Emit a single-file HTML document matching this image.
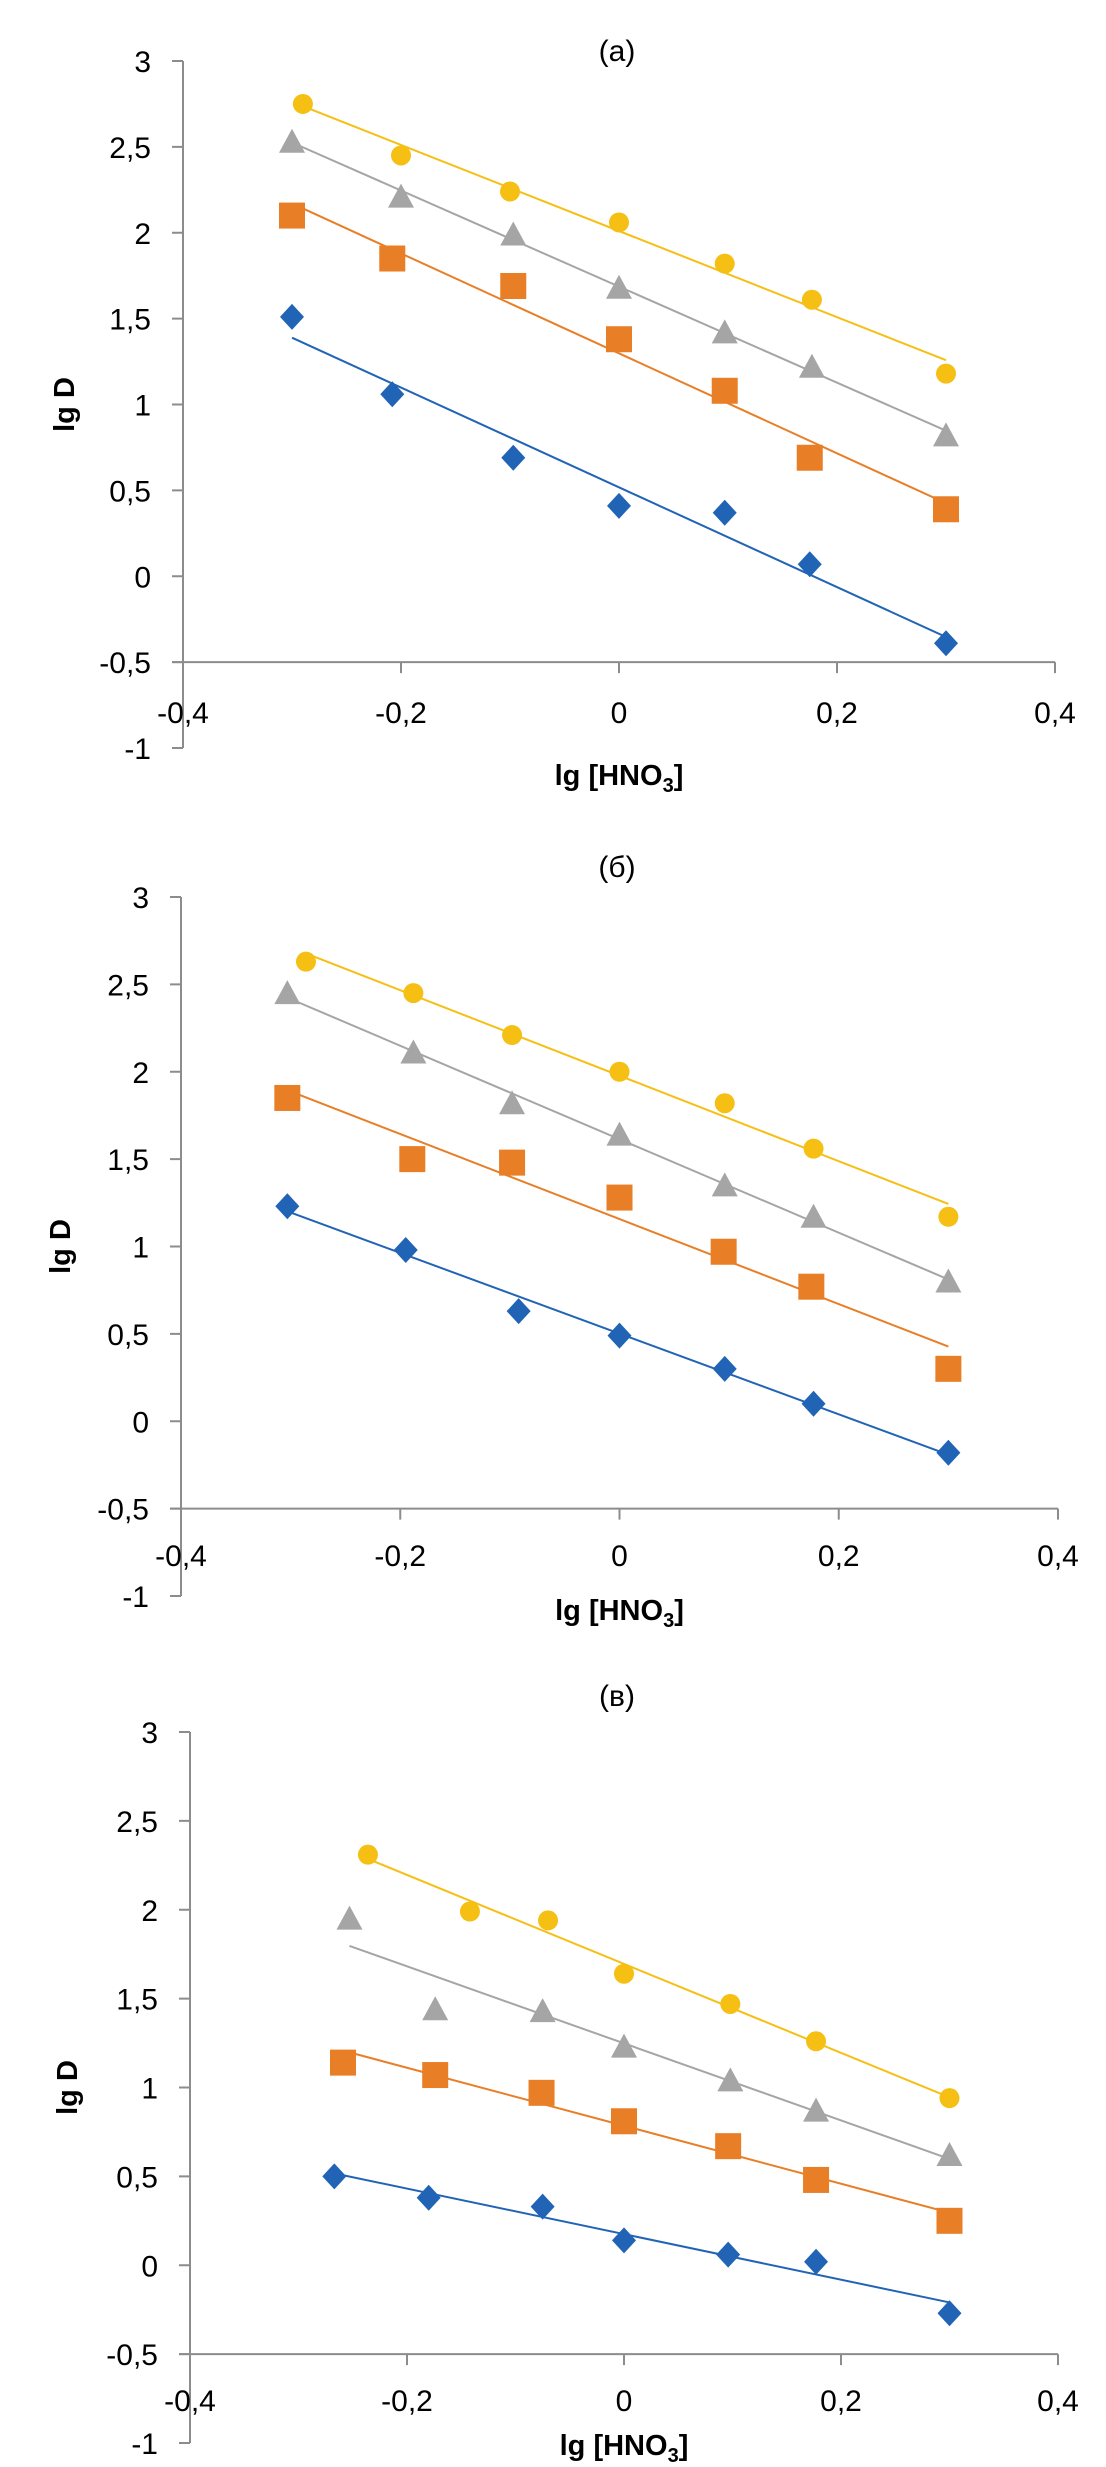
<!DOCTYPE html>
<html><head><meta charset="utf-8"><style>
html,body{margin:0;padding:0;background:#fff;}
svg{display:block;font-family:"Liberation Sans",sans-serif;}
</style></head><body>
<svg id="fig" width="1106" height="2467" viewBox="0 0 1106 2467" xmlns="http://www.w3.org/2000/svg"></svg>
<script>
// ---- data ----
const yTicks = [3, 2.5, 2, 1.5, 1, 0.5, 0, -0.5, -1];
const yTickLabels = ["3","2,5","2","1,5","1","0,5","0","-0,5","-1"];
const xTicks = [-0.4, -0.2, 0, 0.2, 0.4];
const xTickLabels = ["-0,4","-0,2","0","0,2","0,4"];
const panelTitles = ["(a)", "(б)", "(в)"];

const aX = [-0.29,-0.20,-0.10,0,0.097,0.177,0.30];
const aYellow = [2.75,2.45,2.24,2.06,1.82,1.61,1.18];
const aGrayX = [-0.30,-0.20,-0.097,0,0.097,0.177,0.30];
const aGray = [2.53,2.21,1.99,1.68,1.42,1.22,0.82];
const aOrangeX = [-0.30,-0.208,-0.097,0,0.097,0.175,0.30];
const aOrange = [2.10,1.85,1.69,1.38,1.08,0.69,0.39];
const aBlueX = [-0.30,-0.208,-0.097,0,0.097,0.175,0.30];
const aBlue = [1.51,1.06,0.69,0.41,0.37,0.07,-0.39];

const bYellowX = [-0.286,-0.188,-0.098,0,0.096,0.177,0.30];
const bYellow = [2.63,2.45,2.21,2.00,1.82,1.56,1.17];
const bGrayX = [-0.303,-0.188,-0.098,0,0.096,0.177,0.30];
const bGray = [2.45,2.11,1.82,1.64,1.35,1.17,0.80];
const bOrangeX = [-0.303,-0.189,-0.098,0,0.095,0.175,0.30];
const bOrange = [1.85,1.50,1.48,1.28,0.97,0.77,0.30];
const bBlueX = [-0.303,-0.195,-0.092,0,0.096,0.177,0.30];
const bBlue = [1.23,0.98,0.63,0.49,0.30,0.10,-0.18];

const cYellowX = [-0.236,-0.142,-0.070,0,0.098,0.177,0.30];
const cYellow = [2.31,1.99,1.94,1.64,1.47,1.26,0.94];
const cGrayX = [-0.253,-0.174,-0.075,0,0.098,0.177,0.30];
const cGray = [1.95,1.44,1.43,1.23,1.04,0.87,0.62];
const cOrangeX = [-0.259,-0.174,-0.076,0,0.096,0.177,0.30];
const cOrange = [1.14,1.07,0.97,0.81,0.67,0.48,0.25];
const cBlueX = [-0.267,-0.18,-0.075,0,0.096,0.177,0.30];
const cBlue = [0.50,0.38,0.33,0.14,0.06,0.02,-0.27];

// ---- layout ----
const NS = "http://www.w3.org/2000/svg";
const svg = document.getElementById('fig');
const COL = {yellow:"#F5BF14", gray:"#A5A5A5", orange:"#E87E26", blue:"#2164B6"};
const panels = [
  {y3:61, y1:748, ax:183, rx:1055, titleY:61, tickY:723, xTitleY:785, yTitleX:64,
   series:[[aBlueX,aBlue,'blue','diamond'],[aOrangeX,aOrange,'orange','square'],[aGrayX,aGray,'gray','triangle'],[aX,aYellow,'yellow','circle']]},
  {y3:897, y1:1596, ax:181, rx:1058, titleY:877, tickY:1566, xTitleY:1620, yTitleX:60,
   series:[[bBlueX,bBlue,'blue','diamond'],[bOrangeX,bOrange,'orange','square'],[bGrayX,bGray,'gray','triangle'],[bYellowX,bYellow,'yellow','circle']]},
  {y3:1732, y1:2443, ax:190, rx:1058, titleY:1706, tickY:2411, xTitleY:2455, yTitleX:67,
   series:[[cBlueX,cBlue,'blue','diamond'],[cOrangeX,cOrange,'orange','square'],[cGrayX,cGray,'gray','triangle'],[cYellowX,cYellow,'yellow','circle']]}
];
function mk(tag, attrs, parent){const e=document.createElementNS(NS,tag);for(const k in attrs)e.setAttribute(k,attrs[k]);(parent||svg).appendChild(e);return e;}
function fit(xs,ys){const n=xs.length;let sx=0,sy=0,sxx=0,sxy=0;for(let i=0;i<n;i++){sx+=xs[i];sy+=ys[i];sxx+=xs[i]*xs[i];sxy+=xs[i]*ys[i];}const m=(n*sxy-sx*sy)/(n*sxx-sx*sx);return [m,(sy-m*sx)/n];}

panels.forEach((p,pi)=>{
  const g = mk('g',{});
  
  
  const X = v => p.ax + (v+0.4)/0.8*(p.rx-p.ax);
  const Y = v => p.y3 + (3-v)/4*(p.y1-p.y3);
  const t = mk('text',{x:617,y:p.titleY,'font-size':30,'text-anchor':'middle',fill:'#000'},g);
  t.textContent = panelTitles[pi];
  
  
  // y axis
  const ya = mk('line',{x1:p.ax,y1:Y(3),x2:p.ax,y2:Y(-1),stroke:'#8C8C8C','stroke-width':2},g);
  
  
  yTicks.forEach((v,i)=>{
    mk('line',{x1:p.ax-11,y1:Y(v),x2:p.ax,y2:Y(v),stroke:'#8C8C8C','stroke-width':2},g);
    const l = mk('text',{x:p.ax-32,y:Y(v)+11,'font-size':30,'text-anchor':'end',fill:'#000'},g);
    l.textContent = yTickLabels[i];
    
    
  });
  // x axis at -0.5
  const xa = mk('line',{x1:p.ax-11,y1:Y(-0.5),x2:p.rx,y2:Y(-0.5),stroke:'#8C8C8C','stroke-width':2},g);
  
  
  xTicks.forEach((v,i)=>{
    mk('line',{x1:X(v),y1:Y(-0.5),x2:X(v),y2:Y(-0.5)+11,stroke:'#8C8C8C','stroke-width':2},g);
    const l = mk('text',{x:X(v),y:p.tickY,'font-size':30,'text-anchor':'middle',fill:'#000'},g);
    l.textContent = xTickLabels[i];
    
    
  });
  const xt = mk('text',{x:(p.ax+p.rx)/2,y:p.xTitleY,'font-size':29,'font-weight':'bold','text-anchor':'middle',fill:'#000'},g);
  xt.innerHTML = 'lg [HNO<tspan font-size="20" dy="7">3</tspan><tspan dy="-7">]</tspan>';
  
  
  const ymid = (Y(3)+Y(-1))/2;
  const yt = mk('text',{x:p.yTitleX,y:ymid,'font-size':29,'font-weight':'bold','text-anchor':'middle',fill:'#000',transform:`rotate(-90 ${p.yTitleX} ${ymid})`,dy:10},g);
  yt.textContent = 'lg D';
  
  
  // series
  p.series.forEach(([xs,ys,c,shape])=>{
    const sg = mk('g',{},g);
    
    
    const [m,b] = fit(xs,ys);
    const x0=Math.min(...xs), x1=Math.max(...xs);
    const tl = mk('line',{x1:X(x0),y1:Y(m*x0+b),x2:X(x1),y2:Y(m*x1+b),stroke:COL[c],'stroke-width':2},sg);
    
    
    xs.forEach((xv,i)=>{
      const cx=X(xv), cy=Y(ys[i]); let e;
      if(shape==='circle') e=mk('circle',{cx:cx,cy:cy,r:10,fill:COL[c]},sg);
      else if(shape==='square') e=mk('rect',{x:cx-13,y:cy-13,width:26,height:26,fill:COL[c]},sg);
      else if(shape==='triangle') e=mk('polygon',{points:`${cx},${cy-13} ${cx+13},${cy+11} ${cx-13},${cy+11}`,fill:COL[c]},sg);
      else e=mk('polygon',{points:`${cx},${cy-13} ${cx+12},${cy} ${cx},${cy+13} ${cx-12},${cy}`,fill:COL[c]},sg);
      
      
    });
  });
});
</script>
</body></html>
